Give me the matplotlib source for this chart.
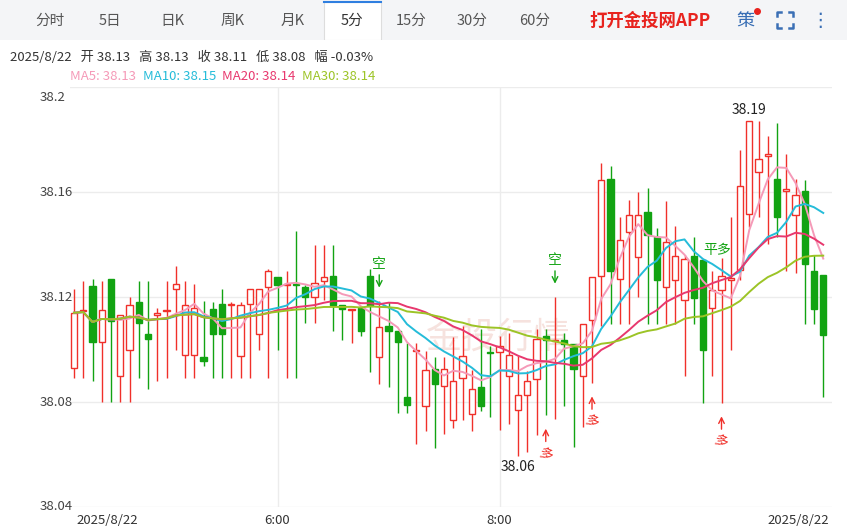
import numpy as np
import pandas as pd
import matplotlib.pyplot as plt

plt.rcParams['font.family'] = ['Noto Sans CJK SC', 'DejaVu Sans']

# 5-minute candles, 2025/8/22 04:10 - 10:55
opens = [38.093, 38.1145, 38.124, 38.103, 38.127, 38.090, 38.100, 38.118, 38.106, 38.113,
         38.1145, 38.123, 38.098, 38.098, 38.097, 38.1155, 38.1175, 38.117, 38.0975, 38.1175,
         38.106, 38.124, 38.1275, 38.1245, 38.125, 38.124, 38.120, 38.126, 38.128, 38.117,
         38.115, 38.116, 38.128, 38.097, 38.109, 38.107, 38.082, 38.0993, 38.0785, 38.0926,
         38.086, 38.073, 38.089, 38.0754, 38.0856, 38.0989, 38.0989, 38.090, 38.0771, 38.0828,
         38.0889, 38.105, 38.1034, 38.1035, 38.1022, 38.0898, 38.1114, 38.128, 38.165, 38.1268,
         38.1448, 38.1351, 38.1524, 38.1427, 38.1237, 38.1266, 38.119, 38.1355, 38.134, 38.116,
         38.1228, 38.1266, 38.1304, 38.1516, 38.1676, 38.1738, 38.1651, 38.1605, 38.1514, 38.1605,
         38.1298, 38.1283]
highs = [38.123, 38.126, 38.127, 38.126, 38.127, 38.113, 38.120, 38.126, 38.126, 38.116,
         38.126, 38.132, 38.126, 38.125, 38.1185, 38.118, 38.123, 38.118, 38.118, 38.123,
         38.123, 38.1305, 38.1275, 38.130, 38.145, 38.1245, 38.140, 38.140, 38.140, 38.117,
         38.1155, 38.116, 38.1305, 38.1185, 38.118, 38.107, 38.1025, 38.1025, 38.0993, 38.097,
         38.097, 38.1046, 38.1088, 38.0923, 38.108, 38.1012, 38.105, 38.1063, 38.0974, 38.0917,
         38.1079, 38.108, 38.120, 38.1063, 38.1022, 38.1097, 38.1275, 38.171, 38.1698, 38.1503,
         38.1571, 38.160, 38.1615, 38.1463, 38.1564, 38.1472, 38.1359, 38.143, 38.134, 38.130,
         38.1349, 38.1503, 38.1761, 38.1872, 38.1872, 38.1812, 38.1863, 38.1745, 38.165, 38.1647,
         38.1361, 38.1283]
lows = [38.089, 38.089, 38.088, 38.080, 38.080, 38.080, 38.080, 38.089, 38.085, 38.088,
        38.089, 38.100, 38.089, 38.089, 38.0936, 38.089, 38.089, 38.089, 38.089, 38.089,
        38.100, 38.089, 38.100, 38.089, 38.089, 38.110, 38.110, 38.119, 38.107, 38.1035,
        38.1025, 38.105, 38.0915, 38.087, 38.0856, 38.076, 38.076, 38.064, 38.069, 38.0625,
        38.068, 38.070, 38.0733, 38.069, 38.0764, 38.0742, 38.0695, 38.0716, 38.0593, 38.061,
        38.0673, 38.0749, 38.0737, 38.0783, 38.0627, 38.0704, 38.0872, 38.1088, 38.1097, 38.1097,
        38.1097, 38.120, 38.1097, 38.1097, 38.1097, 38.1097, 38.0898, 38.1097, 38.0796, 38.0898,
        38.0796, 38.0997, 38.1266, 38.1465, 38.1503, 38.1401, 38.1430, 38.130, 38.1291, 38.1097,
        38.1097, 38.082]
closes = [38.114, 38.1145, 38.103, 38.115, 38.111, 38.113, 38.117, 38.110, 38.104, 38.114,
          38.115, 38.125, 38.117, 38.116, 38.0955, 38.106, 38.106, 38.1175, 38.117, 38.123,
          38.123, 38.130, 38.1245, 38.125, 38.1245, 38.120, 38.1255, 38.1275, 38.117, 38.1155,
          38.1155, 38.107, 38.1165, 38.1085, 38.107, 38.103, 38.079, 38.0996, 38.0923, 38.087,
          38.0926, 38.088, 38.0974, 38.085, 38.0783, 38.0987, 38.1012, 38.0978, 38.0828, 38.0881,
          38.1041, 38.1037, 38.1036, 38.1022, 38.0926, 38.1097, 38.1275, 38.1644, 38.130, 38.1416,
          38.1514, 38.1514, 38.1435, 38.1263, 38.1408, 38.1355, 38.1345, 38.1196, 38.100, 38.1228,
          38.1279, 38.1272, 38.1622, 38.1872, 38.1727, 38.1746, 38.1503, 38.1611, 38.1587, 38.1326,
          38.1154, 38.1054]

y_ticks = [38.04, 38.08, 38.12, 38.16, 38.2]
y_tick_labels = ['38.04', '38.08', '38.12', '38.16', '38.2']
ma_periods = [5, 10, 20, 30]
ma_labels = ['MA5: 38.13', 'MA10: 38.15', 'MA20: 38.14', 'MA30: 38.14']
ma_colors = ['#f59ab8', '#25bcd9', '#e8386e', '#9cc426']
tabs = ['分时', '5日', '日K', '周K', '月K', '5分', '15分', '30分', '60分']
tab_x = [50, 110, 172, 233, 293, 352, 411, 472, 535]
# signal markers: candle index
short_sig = [33, 52]
long_sig = [51, 56, 70]

RED = '#f0302a'
GREEN = '#12a312'
BLUE = '#3a6fb5'

fig = plt.figure(figsize=(8.47, 5.27), dpi=100)
W, H = 847, 527

# top tab bar
bar = fig.add_axes([0, (H - 40) / H, 1, 40 / H])
bar.set_xlim(0, W)
bar.set_ylim(40, 0)
bar.axis('off')
bar.add_patch(plt.Rectangle((0, 0), W, 40, color='#f4f5f7'))
bar.add_patch(plt.Rectangle((324, 2), 57, 38, facecolor='white', edgecolor='#dddddd', lw=0.8))
bar.plot([324, 381], [2, 2], color='#2f7fe0', lw=1.5)
for t, x in zip(tabs, tab_x):
    bar.text(x, 21, t, ha='center', va='center', fontsize=10.5,
             color='#333333' if t == '5分' else '#555555')
bar.text(650, 21, '打开金投网APP', ha='center', va='center', fontsize=12.5,
         color='#e8231e', fontweight='bold')
bar.text(745, 21, '策', ha='center', va='center', fontsize=13, color=BLUE)
bar.plot([757], [11], 'o', color='#e8231e', ms=4)
# fullscreen icon: four corner brackets
cx, cy, r, k = 785, 20, 8, 4
for sx in (-1, 1):
    for sy in (-1, 1):
        bar.plot([cx + sx * r, cx + sx * r, cx + sx * (r - k)],
                 [cy + sy * (r - k), cy + sy * r, cy + sy * r], color=BLUE, lw=1.8)
bar.text(820, 21, '⋮', ha='center', va='center', fontsize=14, color=BLUE,
         family=['DejaVu Sans'])

fig.text(10 / W, 1 - 57 / H, '2025/8/22   开 38.13   高 38.13   收 38.11   低 38.08   幅 -0.03%',
         fontsize=9.5, color='#333333', va='center')
mx = 70
for lab, c in zip(ma_labels, ma_colors):
    fig.text(mx / W, 1 - 77 / H, lab, fontsize=9.5, color=c, va='center')
    mx += len(lab) * 6.3 + 10

# main chart
x0, x1 = 70, 832
ax = fig.add_axes([x0 / W, 20 / H, (x1 - x0) / W, (507 - 87) / H])
n = len(closes)
idx = np.arange(n)
ax.set_xlim((x0 - 74) / 9.25, (x1 - 74) / 9.25)
ax.set_ylim(38.04, 38.2)
for s in ax.spines.values():
    s.set_visible(False)
ax.set_yticks(y_ticks)
ax.set_yticklabels([])
ax.tick_params(length=0)
ax.grid(axis='y', color='#ececec', lw=1)
for v, lab in zip(y_ticks, y_tick_labels):
    yy = min(v, 38.1985)
    ax.text(-0.45 - 3.3, yy, lab, ha='left', va='center' if v < 38.2 else 'top',
            fontsize=9.5, color='#444444', clip_on=False)
ax.set_xticks([22, 46])
ax.set_xticklabels([])
ax.grid(axis='x', color='#ececec', lw=1)
ax.text(22, 38.04 - 0.0025, '6:00', ha='center', va='top', fontsize=9.5, color='#333333')
ax.text(46, 38.04 - 0.0025, '8:00', ha='center', va='top', fontsize=9.5, color='#333333')
ax.text(0.3, 38.04 - 0.0025, '2025/8/22', ha='left', va='top', fontsize=9.5, color='#333333')
ax.text(81.6, 38.04 - 0.0025, '2025/8/22', ha='right', va='top', fontsize=9.5, color='#333333')

ax.text(38, 38.104, '金投行情', fontsize=26, color='#f3d6d0', zorder=0,
        ha='left', va='center', alpha=0.7)

o = np.array(opens); c = np.array(closes)
up = c >= o
cols = np.where(up, RED, GREEN)
ax.vlines(idx, lows, highs, colors=cols, lw=1, zorder=2)
bottoms = np.minimum(o, c)
heights = np.maximum(np.abs(c - o), 0.0004)
ax.bar(idx[up], heights[up], bottom=bottoms[up], width=0.7, facecolor='white',
       edgecolor=RED, lw=1, zorder=3)
ax.bar(idx[~up], heights[~up], bottom=bottoms[~up], width=0.7, facecolor=GREEN,
       edgecolor=GREEN, lw=1, zorder=3)

cs = pd.Series(closes)
for p, col in zip(ma_periods, ma_colors):
    ax.plot(idx, cs.rolling(p, min_periods=1).mean(), color=col, lw=1.4, zorder=4)

for i in short_sig:
    y = highs[i] + 0.004
    ax.annotate('', xy=(i, y), xytext=(i, y + 0.007),
                arrowprops=dict(arrowstyle='->', color=GREEN, lw=1))
    ax.text(i, y + 0.0075, '空', ha='center', va='bottom', fontsize=10, color=GREEN)
for i in long_sig:
    y = lows[i] - 0.004
    ax.annotate('', xy=(i, y), xytext=(i, y - 0.007),
                arrowprops=dict(arrowstyle='->', color=RED, lw=1))
    ax.text(i, y - 0.0075, '多', ha='center', va='top', fontsize=10, color=RED, rotation=-20)
ax.text(69.5, 38.138, '平多', ha='center', va='center', fontsize=10, color=GREEN)

imin = int(np.argmin(lows)); imax = int(np.argmax(highs))
ax.text(imin, lows[imin] - 0.0015, '38.06', ha='center', va='top', fontsize=10, color='#222222')
ax.text(imax, highs[imax] + 0.0015, '38.19', ha='center', va='bottom', fontsize=10, color='#222222')

fig.savefig('out.png', dpi=100, facecolor='white')
